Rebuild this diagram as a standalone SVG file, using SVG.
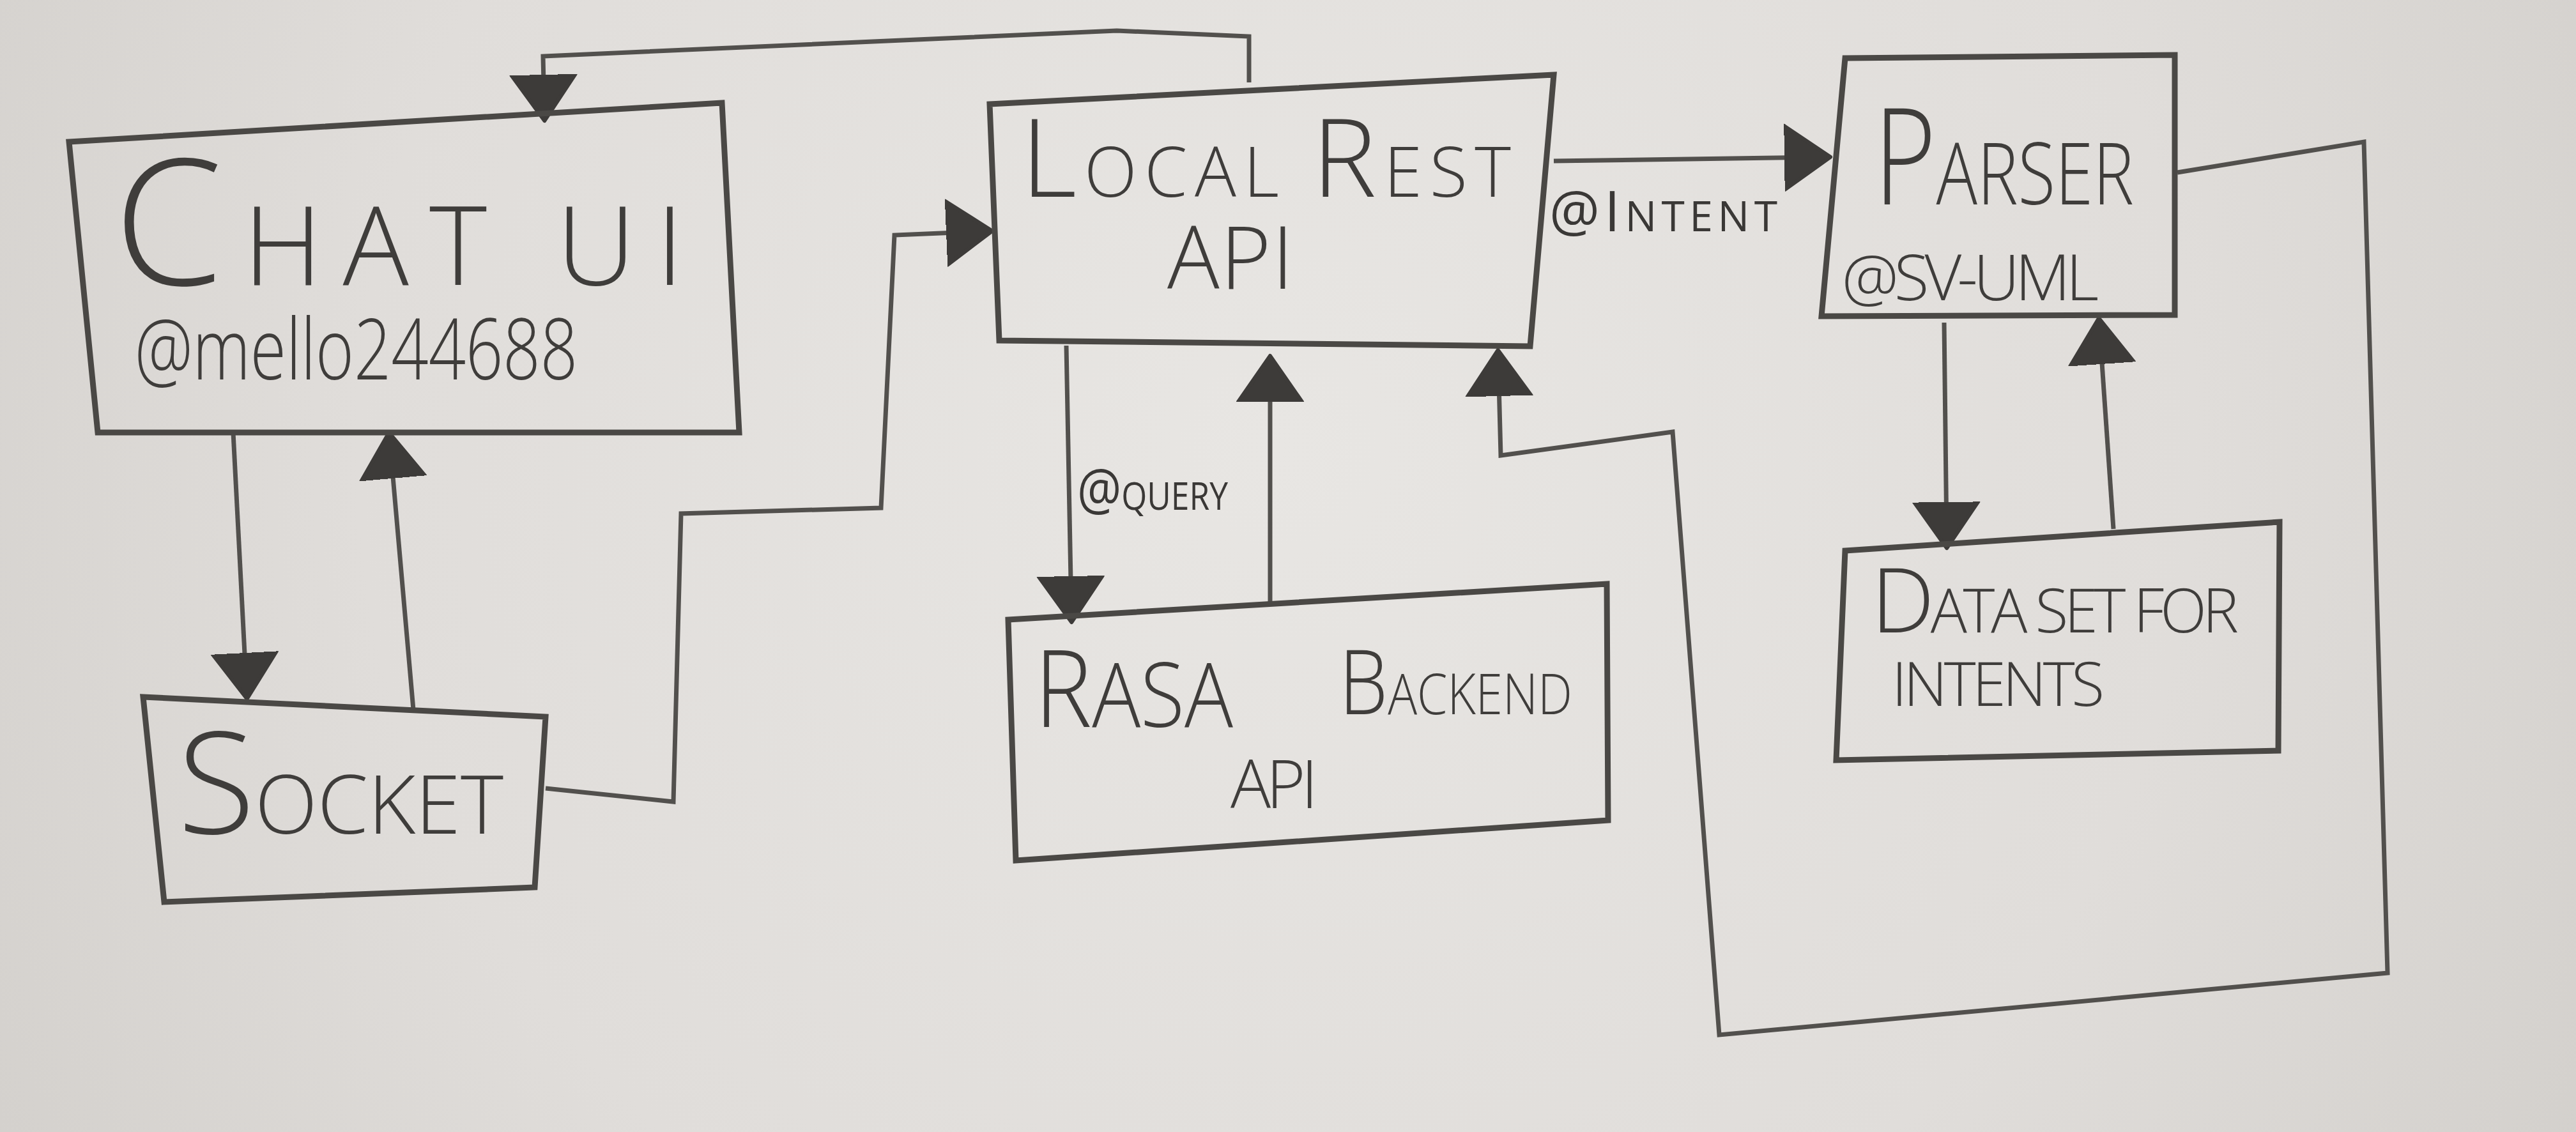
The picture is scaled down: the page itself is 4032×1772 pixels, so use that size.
<svg xmlns="http://www.w3.org/2000/svg" width="4032" height="1772" viewBox="0 0 4032 1772">
  <defs>
    <radialGradient id="paper" cx="2000" cy="700" r="2400" gradientUnits="userSpaceOnUse">
      <stop offset="0" stop-color="#e8e6e3"/>
      <stop offset="0.6" stop-color="#e0ddda"/>
      <stop offset="1" stop-color="#d2cfcb"/>
    </radialGradient>
    <marker id="arrow" markerUnits="userSpaceOnUse" orient="auto" markerWidth="80" markerHeight="110" viewBox="0 0 80 110" refX="60" refY="55">
      <path d="M0,5 L72,55 L0,105 Z" fill="#3d3b39" stroke="#3d3b39" stroke-width="6" stroke-linejoin="round"/>
    </marker>
    <style>
      .box { fill: none; stroke: #4a4845; stroke-width: 9; stroke-linejoin: miter; }
      .conn { fill: none; stroke: #52504d; stroke-width: 7; stroke-linejoin: miter; marker-end: url(#arrow); }
      .t { font-family: 'Open Sans', 'Liberation Sans', sans-serif; font-weight: 300; fill: #3f3d3b; }
      .lbl { font-family: 'Open Sans', 'Liberation Sans', sans-serif; font-weight: 400; fill: #3a3836; }
    </style>
  </defs>

  <rect x="0" y="0" width="4032" height="1772" fill="url(#paper)"/>

  <g id="connectors">
    <path id="c-rest-chat" class="conn" d="M1955,129 L1955,57 L1748,48 L850,88 L852,177"/>
    <path id="c-chat-socket" class="conn" d="M365,677 L386,1082"/>
    <path id="c-socket-chat" class="conn" d="M647,1111 L610,689"/>
    <path id="c-socket-rest" class="conn" d="M854,1234 L1054,1255 L1066,804 L1379,795 L1400,368 L1541,362"/>
    <path id="c-rest-parser" class="conn" d="M2432,252 L2853,246"/>
    <path id="c-rest-rasa" class="conn" d="M1669,541 L1677,962"/>
    <path id="c-rasa-rest" class="conn" d="M1988,948 L1988,569"/>
    <path id="c-parser-data" class="conn" d="M3043,505 L3047,846"/>
    <path id="c-data-parser" class="conn" d="M3308,828 L3286,510"/>
    <path id="c-parser-rest" class="conn" d="M3408,270 L3700,222 L3737,1523 L2691,1620 L2618,676 L2349,713 L2345,560"/>
    <text class="lbl" x="2425" y="362" textLength="357"><tspan font-size="88">@I</tspan><tspan font-size="66">NTENT</tspan></text>
    <text class="lbl" x="1686" y="798" textLength="236" lengthAdjust="spacingAndGlyphs"><tspan font-size="90">@</tspan><tspan font-size="60">QUERY</tspan></text>
  </g>

  <g id="chat-ui">
    <path class="box" d="M108,222 L1130,161 L1157,677 L153,677 Z"/>
    <text class="t" x="178" y="446" textLength="892"><tspan font-size="275">C</tspan><tspan font-size="172">HAT UI</tspan></text>
    <text class="t" x="211" y="594" font-size="132" textLength="693" lengthAdjust="spacingAndGlyphs">@mello244688</text>
  </g>

  <g id="socket">
    <path class="box" d="M224,1091 L854,1122 L837,1389 L257,1412 Z"/>
    <text class="t" x="278" y="1305" textLength="510"><tspan font-size="222">S</tspan><tspan font-size="128">OCKET</tspan></text>
  </g>

  <g id="local-rest-api">
    <path class="box" d="M1549,163 L2432,117 L2395,542 L1564,533 Z"/>
    <text class="t" x="1598" y="308" textLength="767"><tspan font-size="170">L</tspan><tspan font-size="108">OCAL </tspan><tspan font-size="170">R</tspan><tspan font-size="108">EST</tspan></text>
    <text class="t" x="1827" y="452" font-size="136" textLength="198">API</text>
  </g>

  <g id="rasa-backend-api">
    <path class="box" d="M1578,970 L2515,914 L2517,1284 L1590,1347 Z"/>
    <text class="t" x="1619" y="1138" textLength="311" lengthAdjust="spacingAndGlyphs"><tspan font-size="168">R</tspan><tspan font-size="140">ASA</tspan></text>
    <text class="t" x="2096" y="1118" textLength="365" lengthAdjust="spacingAndGlyphs"><tspan font-size="140">B</tspan><tspan font-size="88">ACKEND</tspan></text>
    <text class="t" x="1926" y="1265" font-size="105" textLength="137">API</text>
  </g>

  <g id="parser">
    <path class="box" d="M2888,91 L3404,86 L3404,493 L2851,495 Z"/>
    <text class="t" x="2933" y="320" textLength="407" lengthAdjust="spacingAndGlyphs"><tspan font-size="210">P</tspan><tspan font-size="135">ARSER</tspan></text>
    <text class="t" x="2883" y="470" font-size="100" textLength="402">@SV-UML</text>
  </g>

  <g id="data-set">
    <path class="box" d="M2888,862 L3568,817 L3566,1175 L2874,1190 Z"/>
    <text class="t" x="2929" y="990" textLength="575"><tspan font-size="140">D</tspan><tspan font-size="95">ATA SET FOR</tspan></text>
    <text class="t" x="2961" y="1105" font-size="95" textLength="333">INTENTS</text>
  </g>
</svg>
